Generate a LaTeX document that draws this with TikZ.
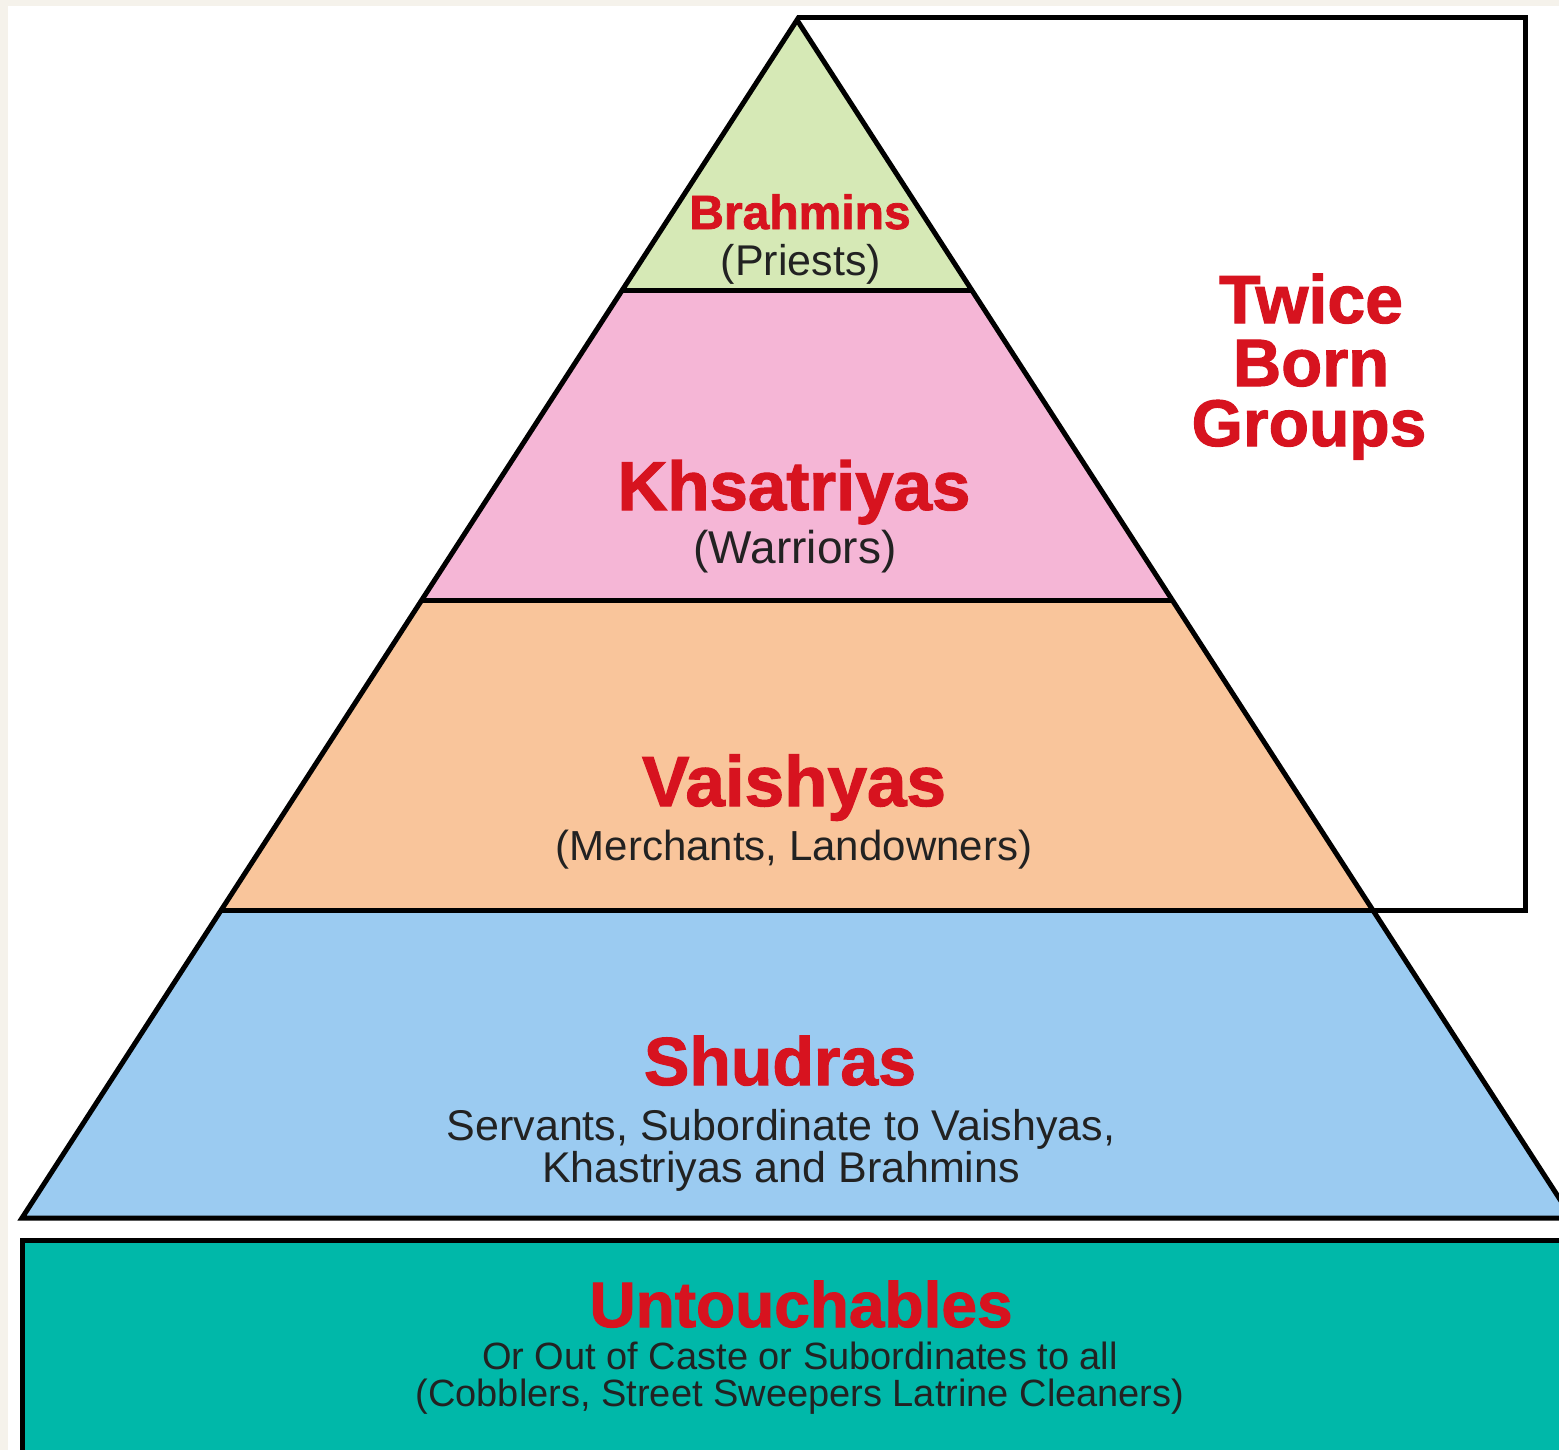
\documentclass[tikz,border=0pt]{standalone}
\usepackage{fontspec}
\setmainfont{Liberation Sans}
\newfontfamily\heavyfont[FakeBold=1.6]{Liberation Sans Bold}
\usetikzlibrary{positioning,calc}

\definecolor{brahminGreen}{HTML}{D6E9B6}
\definecolor{kshPink}{HTML}{F5B6D6}
\definecolor{vaiOrange}{HTML}{F9C59B}
\definecolor{shuBlue}{HTML}{9BCBF1}
\definecolor{untTeal}{HTML}{00B8A9}
\definecolor{casteRed}{HTML}{D7131F}
\definecolor{descGrey}{HTML}{222222}
\definecolor{paper}{HTML}{F5F2EB}

\tikzset{
  outline/.style={draw=black, line width=2.5pt, line join=miter},
  title/.style={text=casteRed, inner sep=0pt, anchor=base,
    font=\heavyfont\fontsize{#1}{#1}\selectfont},
  desc/.style={text=descGrey, inner sep=0pt, anchor=base,
    font=\fontsize{#1}{#1}\selectfont},
}

\begin{document}
\begin{tikzpicture}[x=0.5pt, y=-0.5pt]
    % Canvas
    \useasboundingbox (0,0) rectangle (1559,1450);
    \clip (0,0) rectangle (1559,1450);
    \fill[paper] (0,0) rectangle (1559,1450);
    \fill[white] (8,6) rectangle (1559,1450);

    % Pyramid corners
    \coordinate (apex) at (797,20);
    \coordinate (l1) at (622,290);  \coordinate (r1) at (972,290);
    \coordinate (l2) at (422,600);  \coordinate (r2) at (1172,600);
    \coordinate (l3) at (221,910);  \coordinate (r3) at (1373,910);
    \coordinate (l4) at (22,1218);  \coordinate (r4) at (1572,1218);

    % Layers
    \fill[brahminGreen] (apex) -- (l1) -- (r1) -- cycle;
    \fill[kshPink] (l1) -- (l2) -- (r2) -- (r1) -- cycle;
    \fill[vaiOrange] (l2) -- (l3) -- (r3) -- (r2) -- cycle;
    \fill[shuBlue] (l3) -- (l4) -- (r4) -- (r3) -- cycle;
    \draw[outline] (apex) -- (l4) -- (r4) -- cycle;
    \draw[outline] (l1) -- (r1);
    \draw[outline] (l2) -- (r2);
    \draw[outline] (l3) -- (r3);

    % Twice born bracket
    \coordinate (boxtop) at (1525,18);
    \coordinate (boxbot) at (1525,910);
    \draw[outline] (apex |- boxtop) -- (boxtop) -- (boxbot) -- (r3);

    % Untouchables band
    \draw[outline, fill=untTeal] (22,1240) rectangle (1600,1500);

    % Labels
    \node[title=24] (brahmins) at (800,229) {Brahmins};
    \node[desc=21.5] (priests) at (801,275) {(Priests)};

    \node[title=34.5] (khsatriyas) at (794,510) {Khsatriyas};
    \node[desc=23] (warriors) at (795,563) {(Warriors)};

    \node[title=35.5] (vaishyas) at (794,806) {Vaishyas};
    \node[desc=21] (merchants) at (794,860) {(Merchants, Landowners)};

    \node[title=34] (shudras) at (780,1085) {Shudras};
    \node[desc=21.5] (servants) at (781,1140) {Servants, Subordinate to Vaishyas,};
    \node[desc=21.5] (khastriyas) at (781,1182) {Khastriyas and Brahmins};

    \node[title=32] (untouchables) at (801,1327) {Untouchables};
    \node[desc=19] (outcaste) at (800,1369) {Or Out of Caste or Subordinates to all};
    \node[desc=19] (cobblers) at (800,1406) {(Cobblers, Street Sweepers Latrine Cleaners)};

    \node[title=34] (twice) at (1311,323) {Twice};
    \node[title=33.5] (born) at (1311,386) {Born};
    \node[title=33] (groups) at (1309,446) {Groups};
\end{tikzpicture}
\end{document}
